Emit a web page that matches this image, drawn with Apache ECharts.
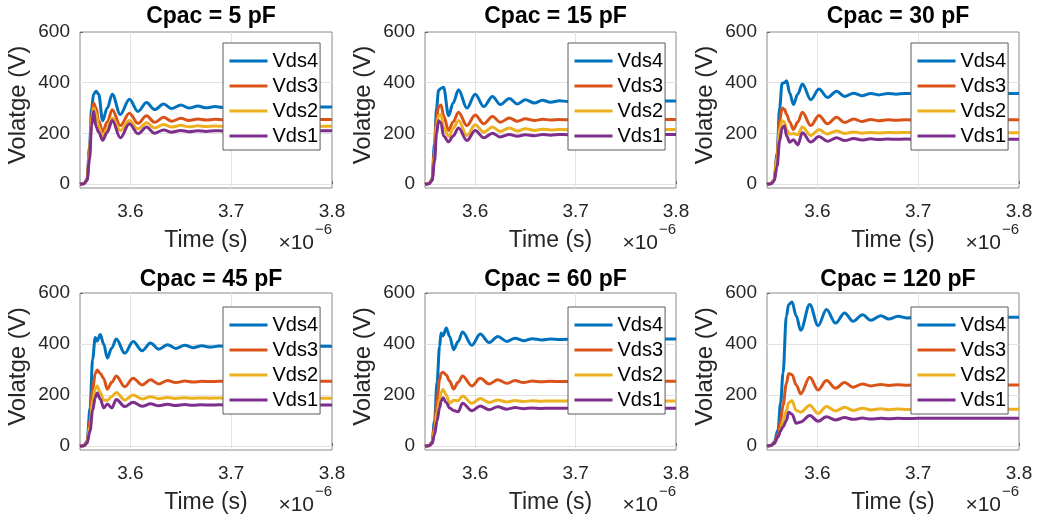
<!DOCTYPE html>
<html><head><meta charset="utf-8">
<script src="https://cdn.jsdelivr.net/npm/echarts@6/dist/echarts.min.js"></script>
<style>html,body{margin:0;padding:0;background:#fff}#c{width:1038px;height:521px}</style>
</head><body><div id="c"></div>
<script>
// ---------- data ----------
const panelTitles = ['Cpac = 5 pF', 'Cpac = 15 pF', 'Cpac = 30 pF', 'Cpac = 45 pF', 'Cpac = 60 pF', 'Cpac = 120 pF'];
const seriesNames = ['Vds4', 'Vds3', 'Vds2', 'Vds1'];
const xTicks = [3.6, 3.7, 3.8];
const yTicks = [0, 200, 400, 600];

// time in units of 1e-6 s
const t5 = [3.55, 3.554, 3.557, 3.5595, 3.5615, 3.5635, 3.566, 3.5685, 3.5725, 3.577, 3.582, 3.590, 3.599, 3.6075, 3.616, 3.624, 3.633, 3.641, 3.650, 3.658, 3.667, 3.675, 3.684, 3.692, 3.70, 3.72, 3.80];
const vds4_5 = [0, 3, 20, 150, 300, 355, 366, 355, 250, 300, 355, 275, 335, 287, 322, 294, 316, 298, 312, 300, 308, 301, 306, 302, 304, 304, 304];
const vds3_5 = [0, 3, 18, 130, 270, 319, 300, 250, 207, 245, 293, 231, 280, 240, 270, 244, 264, 248, 260, 251, 257, 253, 256, 254, 255, 255, 255];
const vds2_5 = [0, 3, 17, 120, 255, 300, 280, 225, 185, 220, 261, 212, 251, 218, 242, 222, 235, 225, 232, 226, 230, 227, 229, 228, 228, 228, 228];
const vds1_5 = [0, 2, 15, 100, 230, 288, 225, 205, 173, 205, 251, 183, 238, 199, 225, 201, 214, 205, 212, 207, 211, 208, 211, 210, 211, 211, 211];

const t15 = [3.55, 3.554, 3.557, 3.5595, 3.5615, 3.5635, 3.566, 3.5685, 3.5735, 3.578, 3.5834, 3.5917, 3.600, 3.6085, 3.6172, 3.625, 3.634, 3.642, 3.650, 3.659, 3.667, 3.675, 3.684, 3.692, 3.70, 3.72, 3.80];
const vds4_15 = [0, 3, 20, 160, 300, 370, 378, 382, 270, 320, 372, 300, 355, 306, 346, 314, 338, 316, 333, 320, 331, 323, 329, 326, 328, 328, 328];
const vds3_15 = [0, 3, 18, 130, 260, 305, 312, 270, 212, 245, 284, 231, 273, 238, 267, 244, 261, 248, 258, 251, 256, 253, 255, 254, 255, 255, 255];
const vds2_15 = [0, 3, 16, 110, 230, 270, 275, 225, 188, 220, 251, 192, 234, 205, 225, 208, 222, 210, 219, 212, 217, 214, 216, 215, 216, 216, 216];
const vds1_15 = [0, 2, 14, 90, 200, 250, 240, 190, 167, 190, 222, 172, 212, 183, 201, 186, 196, 189, 195, 191, 196, 193, 196, 195, 196, 196, 196];

const t30 = [3.55, 3.554, 3.557, 3.56, 3.5625, 3.565, 3.5673, 3.5695, 3.5725, 3.5762, 3.5805, 3.5851, 3.5934, 3.6016, 3.61, 3.619, 3.627, 3.636, 3.644, 3.653, 3.661, 3.67, 3.678, 3.687, 3.70, 3.72, 3.80];
const vds4_30 = [0, 3, 18, 120, 300, 398, 400, 408, 360, 314, 355, 395, 333, 375, 342, 366, 346, 359, 349, 358, 352, 358, 355, 358, 357, 358, 358];
const vds3_30 = [0, 3, 17, 110, 250, 300, 295, 275, 245, 216, 245, 284, 231, 271, 238, 264, 243, 257, 247, 255, 250, 254, 252, 254, 253, 254, 254];
const vds2_30 = [0, 3, 16, 100, 215, 250, 245, 215, 197, 200, 195, 225, 192, 215, 198, 210, 200, 206, 201, 204, 202, 204, 203, 204, 203, 203, 203];
const vds1_30 = [0, 2, 12, 70, 170, 222, 230, 190, 165, 175, 155, 203, 166, 188, 169, 183, 172, 180, 174, 179, 176, 178, 177, 178, 177, 177, 177];

const t45 = [3.55, 3.554, 3.557, 3.56, 3.5625, 3.5651, 3.567, 3.5701, 3.5735, 3.5771, 3.5815, 3.586, 3.5944, 3.6027, 3.6116, 3.620, 3.628, 3.637, 3.645, 3.654, 3.662, 3.671, 3.679, 3.688, 3.70, 3.72, 3.80];
const vds4_45 = [0, 3, 20, 150, 340, 426, 412, 437, 400, 345, 385, 420, 364, 410, 374, 404, 380, 397, 383, 395, 386, 393, 388, 392, 391, 391, 391];
const vds3_45 = [0, 3, 17, 100, 220, 285, 298, 285, 265, 223, 250, 275, 233, 266, 240, 260, 244, 257, 249, 255, 251, 254, 253, 254, 254, 254, 254];
const vds2_45 = [0, 2, 15, 80, 175, 225, 236, 210, 180, 180, 195, 210, 181, 200, 185, 194, 186, 191, 187, 190, 188, 189, 188, 189, 188, 188, 188];
const vds1_45 = [0, 2, 12, 60, 140, 190, 208, 185, 150, 165, 150, 183, 155, 172, 156, 166, 158, 164, 159, 163, 160, 162, 161, 162, 161, 161, 161];

const t60 = [3.55, 3.554, 3.557, 3.5595, 3.562, 3.5645, 3.566, 3.568, 3.5712, 3.5745, 3.5785, 3.583, 3.5874, 3.5967, 3.605, 3.6139, 3.6225, 3.6315, 3.6397, 3.648, 3.657, 3.666, 3.675, 3.684, 3.70, 3.72, 3.80];
const vds4_60 = [0, 3, 15, 100, 250, 390, 443, 432, 463, 430, 378, 410, 447, 395, 439, 406, 430, 410, 423, 413, 421, 416, 420, 418, 420, 420, 420];
const vds3_60 = [0, 3, 14, 80, 180, 260, 285, 290, 279, 255, 224, 250, 275, 236, 266, 244, 260, 246, 257, 249, 255, 252, 254, 253, 254, 254, 254];
const vds2_60 = [0, 2, 12, 60, 130, 185, 210, 222, 200, 168, 180, 178, 197, 168, 187, 171, 181, 173, 179, 175, 178, 176, 177, 177, 177, 177, 177];
const vds1_60 = [0, 2, 10, 45, 100, 150, 175, 190, 170, 150, 140, 135, 168, 139, 157, 143, 154, 145, 151, 147, 150, 148, 149, 149, 149, 149, 149];

const t120 = [3.55, 3.554, 3.557, 3.5609, 3.5635, 3.5659, 3.5692, 3.5715, 3.5748, 3.579, 3.5834, 3.5924, 3.6007, 3.609, 3.618, 3.627, 3.6354, 3.6447, 3.653, 3.6629, 3.6709, 3.680, 3.689, 3.70, 3.72, 3.80];
const vds4_120 = [0, 4, 15, 63, 170, 286, 509, 555, 565, 510, 454, 555, 472, 535, 482, 522, 489, 515, 493, 511, 498, 509, 502, 506, 505, 505];
const vds3_120 = [0, 3, 12, 45, 100, 160, 245, 285, 280, 240, 205, 270, 220, 257, 227, 249, 231, 244, 236, 242, 238, 241, 239, 240, 240, 240];
const vds2_120 = [0, 3, 10, 35, 65, 95, 140, 170, 178, 140, 133, 160, 128, 155, 138, 152, 140, 149, 142, 147, 143, 146, 144, 145, 145, 145];
const vds1_120 = [0, 3, 10, 37, 60, 76, 100, 133, 125, 90, 95, 120, 98, 115, 103, 112, 105, 110, 106, 109, 107, 109, 108, 109, 109, 109];

// ---------- build ----------
const panelTime = [t5, t15, t30, t45, t60, t120];
const panelValues = [
  [vds4_5, vds3_5, vds2_5, vds1_5],
  [vds4_15, vds3_15, vds2_15, vds1_15],
  [vds4_30, vds3_30, vds2_30, vds1_30],
  [vds4_45, vds3_45, vds2_45, vds1_45],
  [vds4_60, vds3_60, vds2_60, vds1_60],
  [vds4_120, vds3_120, vds2_120, vds1_120]
];
const colors = ['#0072BD', '#D95319', '#EDB120', '#7E2F8E'];
const FONT = '"Liberation Sans", Arial, Helvetica, sans-serif';
const layout = [
  {l: 80, t: 32, w: 252, h: 156, lgL: 223, lgT: 43, titleTop: 0},
  {l: 425, t: 32, w: 251, h: 156, lgL: 568, lgT: 43, titleTop: 0},
  {l: 767, t: 32, w: 252, h: 156, lgL: 911, lgT: 43, titleTop: 0},
  {l: 80, t: 293, w: 252, h: 157, lgL: 223, lgT: 307, titleTop: 263},
  {l: 425, t: 293, w: 251, h: 157, lgL: 568, lgT: 307, titleTop: 263},
  {l: 767, t: 293, w: 252, h: 157, lgL: 911, lgT: 307, titleTop: 263}
];

const option = {animation: false, grid: [], xAxis: [], yAxis: [], series: [], legend: [], title: [], graphic: []};

panelTitles.forEach((title, i) => {
  const g = layout[i];
  option.grid.push({left: g.l, top: g.t, width: g.w, height: g.h, show: true,
    borderColor: '#8a8a8a', borderWidth: 1, backgroundColor: '#fff'});
  option.xAxis.push({
    gridIndex: i, type: 'value', min: 3.55, max: 3.8,
    axisLine: {show: false}, splitLine: {show: false},
    axisTick: {show: true, inside: true, length: 3, customValues: xTicks, lineStyle: {color: '#666'}},
    axisLabel: {customValues: xTicks, formatter: v => v.toFixed(1), color: '#262626', fontSize: 19, fontFamily: FONT, margin: 14},
    name: 'Time (s)', nameLocation: 'middle', nameGap: 41,
    nameTextStyle: {fontSize: 23, fontFamily: FONT, color: '#262626'}
  });
  option.yAxis.push({
    gridIndex: i, type: 'value', min: -15, max: 600,
    axisLine: {show: false}, splitLine: {show: false},
    axisTick: {show: true, inside: true, length: 3, customValues: yTicks, lineStyle: {color: '#666'}},
    axisLabel: {customValues: yTicks, color: '#262626', fontSize: 19, fontFamily: FONT, margin: 10},
    name: 'Volatge (V)', nameLocation: 'middle', nameGap: 50, nameRotate: 90,
    nameTextStyle: {fontSize: 24, fontFamily: FONT, color: '#262626', padding: [0, 0, 0, 10]}
  });
  option.title.push({
    text: title, left: g.l + g.w / 2, top: g.titleTop, textAlign: 'center',
    textStyle: {fontSize: 23, fontWeight: 'bold', fontFamily: FONT, color: '#000'}
  });
  option.legend.push({
    orient: 'vertical', left: g.lgL, top: g.lgT, data: seriesNames, z: 20,
    itemWidth: 38, itemHeight: 14, itemGap: 5,
    padding: [8, 2, 4, 5], backgroundColor: '#fff', borderColor: '#5a5a5a', borderWidth: 1, borderRadius: 0,
    itemStyle: {opacity: 0}, lineStyle: {width: 3},
    textStyle: {fontSize: 20, fontFamily: FONT, color: '#000', lineHeight: 20},
    selectedMode: false
  });
  const ts = panelTime[i];
  panelValues[i].forEach((vals, k) => {
    const s = {
      type: 'line', name: seriesNames[k], xAxisIndex: i, yAxisIndex: i,
      data: ts.map((t, j) => [t, vals[j]]),
      symbol: 'none', smooth: 0.35, smoothMonotone: 'x',
      lineStyle: {color: colors[k], width: 3}, itemStyle: {color: colors[k]},
      z: 3 + k
    };
    if (k === 0) {
      s.markLine = {
        silent: true, symbol: 'none', z: 1, label: {show: false},
        lineStyle: {color: '#e3e3e3', width: 1, type: 'solid'},
        data: yTicks.filter(v => v < 600).map(v => ({yAxis: v}))
          .concat(xTicks.filter(v => v < 3.8).map(v => ({xAxis: v})))
      };
    }
    option.series.push(s);
  });
  const right = g.l + g.w;
  const by = g.t + g.h;
  option.graphic.push({type: 'text', x: right - 18, y: by + 55, style: {text: '×10', fill: '#262626', font: '21px ' + FONT, textAlign: 'right', textVerticalAlign: 'middle'}});
  option.graphic.push({type: 'text', x: right, y: by + 42, style: {text: '−6', fill: '#262626', font: '15px ' + FONT, textAlign: 'right', textVerticalAlign: 'middle'}});
});

const chart = echarts.init(document.getElementById('c'), null, {renderer: 'canvas'});
chart.setOption(option);
</script></body></html>
